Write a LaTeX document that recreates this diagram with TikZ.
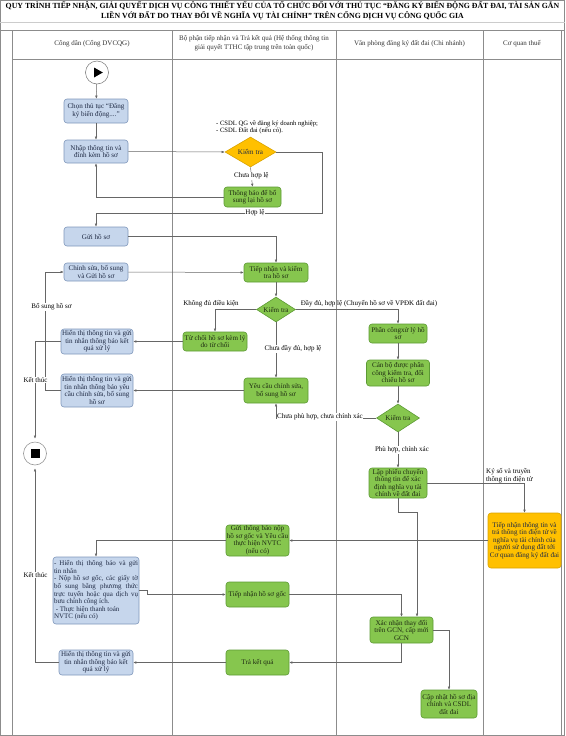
\documentclass[tikz,border=0pt]{standalone}
\usepackage{fontspec}
\setmainfont{Liberation Serif}
\usetikzlibrary{shapes.geometric,arrows.meta}
\definecolor{bluefill}{HTML}{C6D6EC}
\definecolor{bluebd}{HTML}{7F97BA}
\definecolor{greenfill}{HTML}{86C64E}
\definecolor{greenbd}{HTML}{5C9A34}
\definecolor{orfill}{HTML}{FFC000}
\definecolor{orbd}{HTML}{D9A300}
\definecolor{linec}{HTML}{666666}
\definecolor{framec}{HTML}{8C8C8C}
\definecolor{tblue}{HTML}{1F2A44}
\definecolor{tgreen}{HTML}{1E2B12}
\newcommand\bxf{\fontsize{7.1}{7.5}\selectfont}
\newcommand\lbf{\fontsize{7}{7.5}\selectfont}
\newcommand\smf{\fontsize{6.6}{7.2}\selectfont}
\newcommand\hdf{\fontsize{7}{8.6}\selectfont}
\newcommand\jl[1]{\makebox[84pt][s]{#1}}
\tikzset{
  basebox/.style={rounded corners=3pt, line width=0.6pt, align=center, font=\bxf, inner sep=0.5pt},
  bluebox/.style={basebox, draw=bluebd, fill=bluefill, text=tblue},
  greenbox/.style={basebox, draw=greenbd, fill=greenfill, text=tgreen},
  orbox/.style={basebox, draw=orbd, fill=orfill, text=tblue},
  decide/.style={shape=diamond, draw=#1, line width=0.6pt, inner sep=0pt, font=\bxf, aspect=1.7},
  conn/.style={draw=linec, line width=0.5pt, -{Latex[length=3pt,width=2.6pt]}},
  lbl/.style={font=\lbf, fill=white, inner sep=0.6pt, text=black},
  lblnf/.style={font=\lbf, inner sep=0.6pt, text=black},
  laneline/.style={draw=framec, line width=0.7pt},
  hdr/.style={font=\hdf, align=center, text=black!80},
}
\begin{document}
\begin{tikzpicture}[x=1pt,y=-1pt]
\useasboundingbox (0,0) rectangle (565,736);
% frame and lanes
\draw[framec, line width=1.2pt] (0.6,0.6) rectangle (564.4,735.4);
\draw[black!20, line width=0.5pt] (0,22) -- (565,22);
\draw[laneline] (0,30) -- (565,30);
\foreach \xx in {12,172,336,483,561} \draw[laneline] (\xx,30) -- (\xx,736);
\draw[laneline] (12,59) -- (561,59);
% title
\node[font=\fontsize{7.8}{9.5}\selectfont\bfseries, align=center, inner sep=0pt] (title) at (282.5,11)
 {QUY TRÌNH TIẾP NHẬN, GIẢI QUYẾT DỊCH VỤ CÔNG THIẾT YẾU CỦA TỔ CHỨC ĐỐI VỚI THỦ TỤC “ĐĂNG KÝ BIẾN ĐỘNG ĐẤT ĐAI, TÀI SẢN GẮN\\LIỀN VỚI ĐẤT DO THAY ĐỔI VỀ NGHĨA VỤ TÀI CHÍNH” TRÊN CỔNG DỊCH VỤ CÔNG QUỐC GIA};
% headers
\node[hdr] (h-cd) at (92,43.5) {Công dân (Cổng DVCQG)};
\node[hdr] (h-bp) at (254,43) {Bộ phận tiếp nhận và Trả kết quả (Hệ thống thông tin\\giải quyết TTHC tập trung trên toàn quốc)};
\node[hdr] (h-vp) at (409.5,43.5) {Văn phòng đăng ký đất đai (Chi nhánh)};
\node[hdr] (h-ct) at (522,43.5) {Cơ quan thuế};

% start / end
\node[circle, draw=black!55, fill=white, line width=0.5pt, minimum size=23pt, inner sep=0pt] (st) at (97,72.5) {};
\fill[black] (94,67.5) -- (102.8,72.5) -- (94,77.5) -- cycle;
\node[circle, draw=black!40, fill=white, line width=0.6pt, minimum size=23pt, inner sep=0pt] (en) at (35,453.5) {};
\fill[black] (30.5,449) rectangle (39.5,458);

% nodes
\node[bluebox, minimum width=64pt, minimum height=24pt] (b2) at (96,111) {Chọn thủ tục “Đăng\\ký biến động....”};
\node[bluebox, minimum width=64pt, minimum height=23pt] (b3) at (96,151.5) {Nhập thông tin và\\đính kèm hồ sơ};
\node[decide=orbd, fill=orfill, minimum width=51pt, minimum height=30pt, text=tblue] (d1) at (250.5,152) {Kiểm tra};
\node[font=\smf, align=left, anchor=north west, inner sep=0pt] (note) at (216,120.5) {- CSDL QG về đăng ký doanh nghiệp;\\- CSDL Đất đai (nếu có).};
\node[greenbox, minimum width=57pt, minimum height=20pt] (g1) at (252.5,197) {Thông báo để bổ\\sung lại hồ sơ};
\node[bluebox, minimum width=64pt, minimum height=19pt] (b4) at (96,236.5) {Gửi hồ sơ};
\node[bluebox, minimum width=64pt, minimum height=18pt] (b5) at (96,272) {Chỉnh sửa, bổ sung\\và Gửi hồ sơ};
\node[greenbox, minimum width=64pt, minimum height=19pt] (t1) at (276,272.5) {Tiếp nhận và kiểm\\tra hồ sơ};
\node[decide=greenbd, fill=greenfill, minimum width=39pt, minimum height=25pt, text=tgreen] (d2) at (276,309.5) {Kiểm tra};
\node[greenbox, minimum width=64pt, minimum height=19pt] (r1) at (215,341.5) {Từ chối hồ sơ kèm lý\\do từ chối};
\node[bluebox, minimum width=72pt, minimum height=25pt] (h1) at (97,341.5) {Hiển thị thông tin và gửi\\tin nhắn thông báo kết\\quả xử lý};
\node[greenbox, minimum width=58pt, minimum height=19pt] (p1) at (398,333.5) {Phân côngxử lý hồ\\sơ};
\node[greenbox, minimum width=63pt, minimum height=26pt] (k1) at (398,373) {Cán bộ được phân\\công kiểm tra, đối\\chiếu hồ sơ};
\node[decide=greenbd, fill=greenfill, minimum width=43pt, minimum height=28pt, text=tgreen] (d3) at (398,418) {Kiểm tra};
\node[greenbox, minimum width=64pt, minimum height=25pt] (y1) at (276,390.5) {Yêu cầu chỉnh sửa,\\bổ sung hồ sơ};
\node[bluebox, minimum width=72pt, minimum height=33pt] (h2) at (97,390.5) {Hiển thị thông tin và gửi\\tin nhắn thông báo yêu\\cầu chỉnh sửa, bổ sung\\hồ sơ};
\node[greenbox, minimum width=58pt, minimum height=30pt] (l1) at (398,483) {Lập phiếu chuyển\\thông tin để xác\\định nghĩa vụ tài\\chính về đất đai};
\node[orbox, minimum width=73pt, minimum height=55pt] (o1) at (524.5,540.5) {Tiếp nhận thông tin và\\trả thông tin điện tử về\\nghĩa vụ tài chính của\\người sử dụng đất tới\\Cơ quan đăng ký đất đai};
\node[greenbox, minimum width=63pt, minimum height=31pt] (s1) at (257.5,540.5) {Gửi thông báo nộp\\hồ sơ gốc và Yêu cầu\\thực hiện NVTC\\(nếu có)};
\node[bluebox, minimum width=86pt, minimum height=67pt, align=left, font=\fontsize{7}{7.6}\selectfont] (bb) at (96,590.5)
 {\jl{- Hiển thị thông báo và gửi}\\tin nhắn\\\jl{- Nộp hồ sơ gốc, các giấy tờ}\\\jl{bổ sung bằng phương thức}\\\jl{trực tuyến hoặc qua dịch vụ}\\bưu chính công ích.\\\ - Thực hiện thanh toán\\NVTC (nếu có)};
\node[greenbox, minimum width=63pt, minimum height=25pt] (s2) at (257.5,594.5) {Tiếp nhận hồ sơ gốc};
\node[greenbox, minimum width=63pt, minimum height=26pt] (x1) at (401.5,630) {Xác nhận thay đổi\\trên GCN, cấp mới\\GCN};
\node[greenbox, minimum width=63pt, minimum height=25pt] (tk) at (257.5,662.5) {Trả kết quả};
\node[bluebox, minimum width=74pt, minimum height=25pt] (h3) at (96,662.5) {Hiển thị thông tin và gửi\\tin nhắn thông báo kết\\quả xử lý};
\node[greenbox, minimum width=56pt, minimum height=28pt] (cn) at (449,704) {Cập nhật hồ sơ địa\\chính và CSDL\\đất đai};

% helper coordinates
\coordinate (c1) at (322,213);
\coordinate (c2) at (45,390.5);
\coordinate (c3) at (147,590.5);

% connectors
\draw[conn] (st) -- (b2);
\draw[conn] (b2) -- (b3);
\draw[conn] (b3.east) -- (d1.west);
\draw[conn] (d1.south) -- node[lbl, pos=0.45] {Chưa hợp lệ} (g1.north);
\draw[conn] (g1.west) -| (b3.south);
\draw[conn] (d1.east) -| (c1) -| (b4.north);
\node[lbl] (lhl) at (255,213) {Hợp lệ};
\draw[conn] (b4.east) -| (t1.north);
\draw[conn] (b5.east) -- (t1.west);
\draw[conn] (t1.south) -- (d2.north);
\draw[conn] (d2.west) -| (r1.north);
\node[lblnf] (lkd) at (211,304) {Không đủ điều kiện};
\draw[conn] (r1.west) -- (h1.east);
\draw[conn] (d2.east) -| (p1.north);
\node[lblnf] (ldd) at (369,304) {Đầy đủ, hợp lệ (Chuyển hồ sơ về VPĐK đất đai)};
\draw[conn] (p1) -- (k1);
\draw[conn] (k1) -- (d3);
\draw[conn] (d2.south) -- (y1.north);
\node[lbl] (lcd) at (293,349) {Chưa đầy đủ, hợp lệ};
\draw[conn] (d3.west) -| (y1.south);
\node[lbl] (lcp) at (320,417) {Chưa phù hợp, chưa chính xác};
\draw[conn] (y1.west) -- (h2.east);
\draw[conn] (h2.west) -- (c2) |- (b5.west);
\node[lbl] (lbs) at (51.5,307) {Bổ sung hồ sơ};
\draw[conn, shorten >=3pt] (h1.west) -| (en.north);
\node[lbl] (lkt1) at (35.5,380) {Kết thúc};
\draw[conn] (d3.south) -- (l1.north);
\node[lbl] (lph) at (402,450) {Phù hợp, chính xác};
\draw[conn] (l1.east) -| (o1.north);
\node[font=\lbf, align=left, anchor=west, inner sep=0pt] (lks) at (486,475.5) {Ký số và truyền\\thông tin điện tử};
\draw[conn] (o1.west) -- (s1.east);
\draw[conn] (l1.south) -- ++(0,14) -| ([xshift=15.5pt]x1.north);
\draw[conn] (s1.west) -| (bb.north);
\draw[conn] (bb.east) -- (c3) |- (s2.west);
\draw[conn] (s2.east) -| (x1.north);
\draw[conn] (x1.south) |- (tk.east);
\draw[conn] (tk.west) -- (h3.east);
\draw[conn, shorten >=3pt] (h3.west) -| (en.south);
\node[lbl] (lkt2) at (35.5,575) {Kết thúc};
\draw[conn] (x1.east) -| (cn.north);
\end{tikzpicture}
\end{document}
